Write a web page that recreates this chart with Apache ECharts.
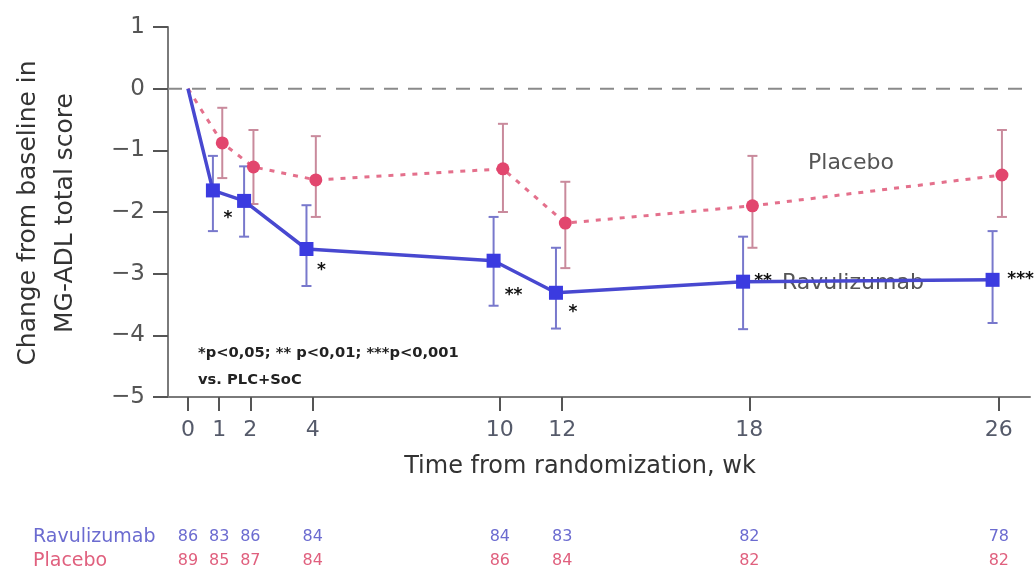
<!DOCTYPE html>
<html><head><meta charset="utf-8">
<script src="https://cdn.jsdelivr.net/npm/echarts@6/dist/echarts.min.js"></script>
<style>html,body{margin:0;padding:0;background:#fff}#c{width:1034px;height:573px}</style>
</head><body><div id="c"></div>
<script>
const weeks = [0, 1, 2, 4, 10, 12, 18, 26];
const weekTicks = [0, 1, 2, 4, 10, 12, 18, 26];
const yTicks = [1, 0, -1, -2, -3, -4, -5];
const ravuMean  = [0, -1.65, -1.82, -2.60, -2.79, -3.31, -3.13, -3.10];
const ravuUpper = [null, -1.09, -1.26, -1.89, -2.08, -2.58, -2.40, -2.31];
const ravuLower = [null, -2.31, -2.40, -3.20, -3.52, -3.89, -3.90, -3.80];
const placMean  = [0, -0.88, -1.27, -1.48, -1.30, -2.18, -1.90, -1.40];
const placUpper = [null, -0.31, -0.67, -0.77, -0.57, -1.51, -1.09, -0.67];
const placLower = [null, -1.45, -1.87, -2.08, -2.00, -2.91, -2.58, -2.08];
const ravuN = [86, 83, 86, 84, 84, 83, 82, 78];
const placN = [89, 85, 87, 84, 86, 84, 82, 82];
const sigMarks = ['', '*', '', '*', '**', '*', '**', '***'];

const FONT = 'DejaVu Sans';
const ravuShift = -0.2, placShift = 0.1;
const sigOffsets = [[0,0],[15,28],[0,0],[15,22],[20,35],[17,20],[20,0],[28,0]];

const chart = echarts.init(document.getElementById('c'));

function errSeries(mean, up, lo, shift, color) {
  const data = weeks.map((w, i) => [w + shift, lo[i], up[i]]).filter(d => d[1] !== null);
  return {
    type: 'custom', z: 2, data: data,
    renderItem: function (params, api) {
      const x = api.value(0);
      const p1 = api.coord([x, api.value(1)]);
      const p2 = api.coord([x, api.value(2)]);
      const cw = 5;
      const st = { stroke: color, lineWidth: 2 };
      return { type: 'group', children: [
        { type: 'line', shape: { x1: p1[0], y1: p1[1], x2: p2[0], y2: p2[1] }, style: st },
        { type: 'line', shape: { x1: p1[0]-cw, y1: p1[1], x2: p1[0]+cw, y2: p1[1] }, style: st },
        { type: 'line', shape: { x1: p2[0]-cw, y1: p2[1], x2: p2[0]+cw, y2: p2[1] }, style: st }
      ]};
    }
  };
}

const nAxis = (arr, offset, color) => ({
  type: 'value', min: -0.64, max: 27, position: 'bottom', offset: offset,
  axisLine: { show: false, onZero: false }, axisTick: { show: false }, splitLine: { show: false },
  axisLabel: { customValues: weekTicks, formatter: v => String(arr[weekTicks.indexOf(v)]),
    color: color, fontFamily: FONT, fontSize: 16, margin: 8 }
});

const option = {
  animation: false,
  grid: { left: 168, right: 4, top: 27, bottom: 176, containLabel: false },
  xAxis: [
    { type: 'value', min: -0.64, max: 27,
      axisLine: { onZero: false, lineStyle: { color: '#7a7a7a', width: 2 } },
      axisTick: { customValues: weekTicks, length: 14, lineStyle: { color: '#555', width: 2 } },
      axisLabel: { customValues: weekTicks, color: '#555a6a', fontFamily: FONT, fontSize: 22, margin: 22 },
      splitLine: { show: false } },
    nAxis(ravuN, 124, '#6b6bd0'),
    nAxis(placN, 148, '#e0607e')
  ],
  yAxis: {
    type: 'value', min: -5, max: 1, interval: 1,
    axisLine: { show: true, onZero: false, lineStyle: { color: '#7a7a7a', width: 2 } },
    axisTick: { show: true, length: 15, lineStyle: { color: '#555', width: 2 } },
    axisLabel: { color: '#555', fontFamily: FONT, fontSize: 23, margin: 23,
      formatter: v => v < 0 ? '\u2212' + Math.abs(v) : String(v) },
    splitLine: { show: false }
  },
  series: [
    { type: 'line', z: 1, data: [[-0.64, 0], [27, 0]], symbol: 'none',
      lineStyle: { color: '#8a8a8a', width: 2, type: [14, 10] } },
    errSeries(placMean, placUpper, placLower, placShift, '#c98a9c'),
    errSeries(ravuMean, ravuUpper, ravuLower, ravuShift, '#7878cc'),
    { type: 'line', z: 3, name: 'Placebo',
      data: weeks.map((w, i) => ({ value: [w + (i ? placShift : 0), placMean[i]], symbolSize: i ? 13 : 0 })),
      symbol: 'circle', itemStyle: { color: '#e2466e' },
      lineStyle: { color: '#e4708c', width: 3, type: [5, 7] } },
    { type: 'line', z: 4, name: 'Ravulizumab',
      data: weeks.map((w, i) => ({ value: [w + (i ? ravuShift : 0), ravuMean[i]], symbolSize: i ? 14 : 0 })),
      symbol: 'rect', itemStyle: { color: '#3b3be0' },
      lineStyle: { color: '#4848d0', width: 3.5 } }
  ]
};
chart.setOption(option);

const g = [];
g.push({ type: 'text', rotation: Math.PI / 2, x: 28, y: 213,
  style: { text: 'Change from baseline in', fontFamily: FONT, fontSize: 25, fill: '#333', align: 'center', verticalAlign: 'middle' } });
g.push({ type: 'text', rotation: Math.PI / 2, x: 65, y: 213,
  style: { text: 'MG-ADL total score', fontFamily: FONT, fontSize: 25, fill: '#333', align: 'center', verticalAlign: 'middle' } });
g.push({ type: 'text', x: 580, y: 467,
  style: { text: 'Time from randomization, wk', fontFamily: FONT, fontSize: 24, fill: '#333', align: 'center', verticalAlign: 'middle' } });
g.push({ type: 'text', x: 33, y: 537,
  style: { text: 'Ravulizumab', fontFamily: FONT, fontSize: 19, fill: '#6b6bd0', align: 'left', verticalAlign: 'middle' } });
g.push({ type: 'text', x: 33, y: 561,
  style: { text: 'Placebo', fontFamily: FONT, fontSize: 19, fill: '#e0607e', align: 'left', verticalAlign: 'middle' } });
g.push({ type: 'text', x: 808, y: 163,
  style: { text: 'Placebo', fontFamily: FONT, fontSize: 22, fill: '#555', align: 'left', verticalAlign: 'middle' } });
g.push({ type: 'text', x: 782, y: 283,
  style: { text: 'Ravulizumab', fontFamily: FONT, fontSize: 22, fill: '#555', align: 'left', verticalAlign: 'middle' } });
g.push({ type: 'text', x: 198, y: 353, scaleX: 1.05,
  style: { text: '*p<0,05; ** p<0,01; ***p<0,001', fontFamily: FONT, fontWeight: 'bold', fontSize: 14, fill: '#222', align: 'left', verticalAlign: 'middle' } });
g.push({ type: 'text', x: 198, y: 380, scaleX: 1.05,
  style: { text: 'vs. PLC+SoC', fontFamily: FONT, fontWeight: 'bold', fontSize: 14, fill: '#222', align: 'left', verticalAlign: 'middle' } });
weeks.forEach((w, i) => {
  if (!sigMarks[i]) return;
  const p = chart.convertToPixel({ gridIndex: 0 }, [w + ravuShift, ravuMean[i]]);
  g.push({ type: 'text', x: p[0] + sigOffsets[i][0], y: p[1] + sigOffsets[i][1],
    style: { text: sigMarks[i], fontFamily: FONT, fontWeight: 'bold', fontSize: 17, fill: '#111', align: 'center', verticalAlign: 'middle' } });
});
chart.setOption({ graphic: g });
</script></body></html>
